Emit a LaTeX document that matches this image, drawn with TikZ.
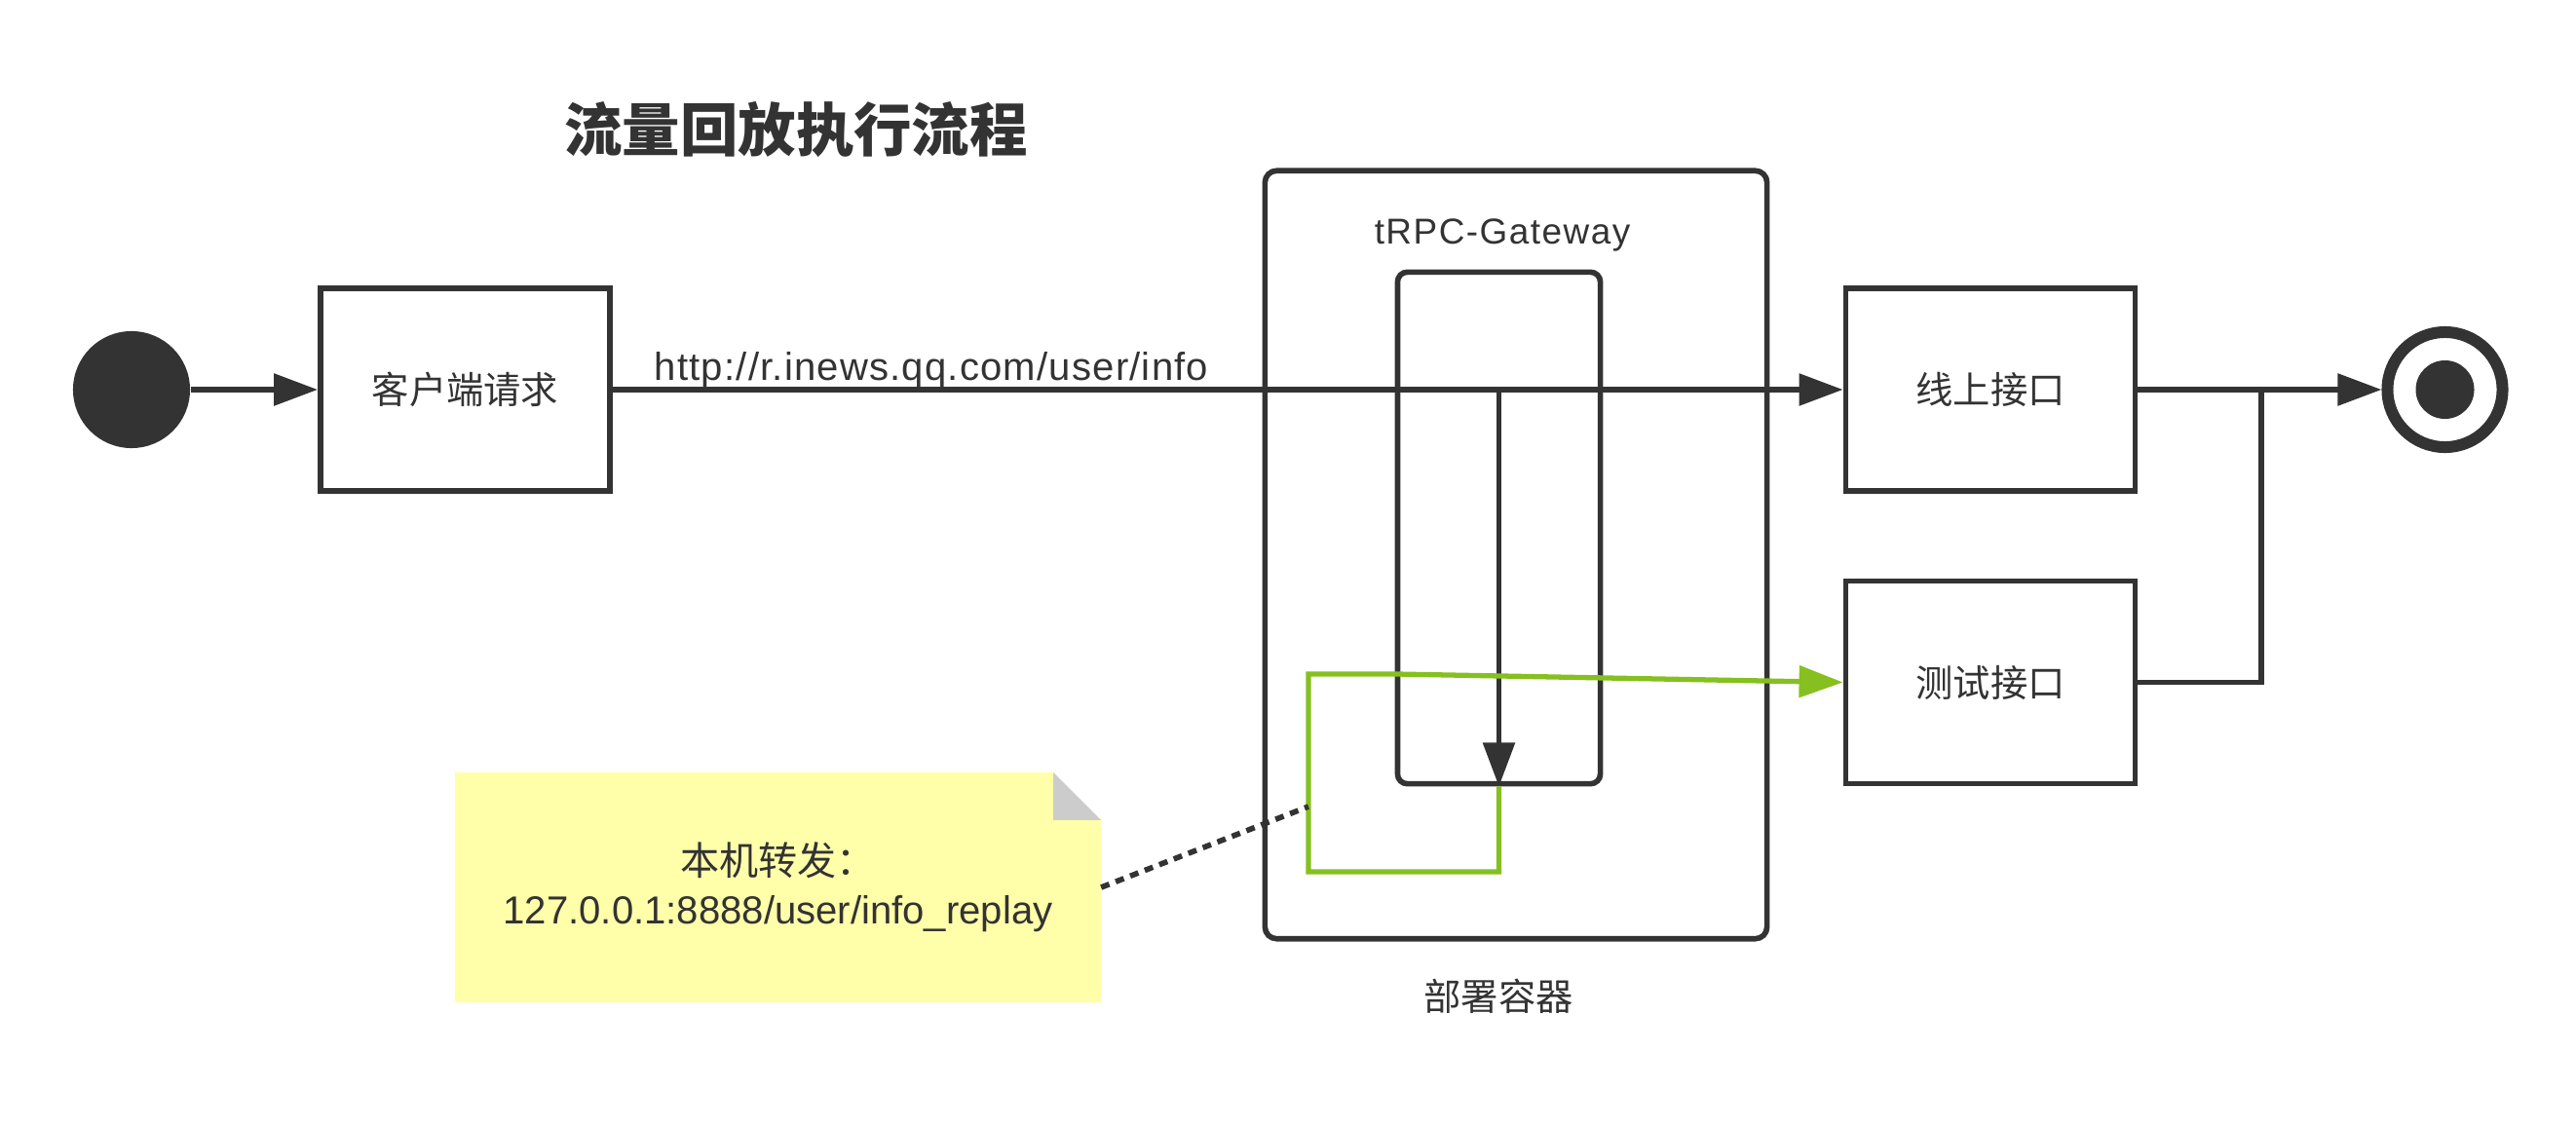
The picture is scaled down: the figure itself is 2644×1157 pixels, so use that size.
\documentclass[tikz,border=0pt]{standalone}
\usepackage{fontspec}
\setmainfont{Liberation Sans}
\newfontfamily\cjk{Noto Sans CJK SC}
\usepackage{tikz}
\usetikzlibrary{arrows.meta}
\usetikzlibrary{backgrounds}
\usepackage{xcolor}
\definecolor{ink}{HTML}{333333}
\definecolor{replaygreen}{RGB}{133,192,32}
\definecolor{notefill}{RGB}{255,255,170}
\definecolor{foldgray}{RGB}{204,204,204}

\tikzset{
  actbox/.style={draw=ink, line width=1.6pt, minimum width=2.97cm, minimum height=2.08cm, text=ink, font=\cjk\fontsize{10.9}{13}\selectfont},
  flow/.style={ink, line width=1.6pt, -{Triangle[length=0.45cm,width=0.32cm]}},
  replay/.style={replaygreen, line width=1.5pt, -{Triangle[length=0.45cm,width=0.32cm]}},
  frame/.style={draw=ink, line width=1.6pt, rounded corners=0.12cm, inner sep=0pt},
  caption/.style={text=ink, font=\cjk\fontsize{10.9}{13}\selectfont},
}

\begin{document}
\begin{tikzpicture}[x=0.01cm, y=-0.01cm]
\useasboundingbox (0,0) rectangle (2644,1157);

\node[text=ink, font=\cjk\bfseries\fontsize{16.9}{20}\selectfont] (title) at (817,133) {流量回放执行流程};

% containers
\node[frame, minimum width=5.15cm, minimum height=7.88cm] (deploy) at (1556,569.5) {};
\node[frame, minimum width=2.08cm, minimum height=5.25cm, rounded corners=0.1cm] (gw) at (1538.5,542) {};
\node[text=ink, anchor=base, font=\fontsize{10.5}{12}\addfontfeatures{LetterSpace=4}] (gwlabel) at (1542,250) {tRPC-Gateway};
\node[caption] (deploylabel) at (1538,1023) {部署容器};

% start / end
\node[circle, fill=ink, minimum size=1.2cm, inner sep=0pt] (start) at (135,400) {};
\node[circle, draw=ink, line width=0.12cm, minimum size=1.18cm, inner sep=0pt] (stop) at (2509.5,400) {};
\fill[ink] (stop.center) circle (0.3cm);

\node[actbox] (client) at (477.5,400) {客户端请求};
\node[actbox] (online) at (2043,400) {线上接口};
\node[actbox] (test) at (2043,700.5) {测试接口};

\coordinate (fork) at (gw.south |- online);
\coordinate (merge) at (2321,400);
\coordinate (lp1) at (1538.5,895);
\coordinate (lp2) at (1343,895);
\coordinate (lp3) at (1343,692);
\coordinate (lp4) at (1433,692);
\coordinate (dotend) at (1343,828);

\draw[flow] (start) -- (client);
\draw[flow] (client) -- (online)
  node[pos=0.259, anchor=base, yshift=0.1cm, text=ink, font=\fontsize{11.4}{13}\addfontfeatures{LetterSpace=3}] (url) {http://r.inews.qq.com/user/info};
\draw[flow] (fork) -- (gw.south);
\draw[flow] (online) -- (stop);
\draw[ink, line width=1.6pt] (test.east) -| (merge);
\draw[replay] (gw.south) -- (lp1) -- (lp2) -- (lp3) -- (lp4) -- (test.west);

% note
\node[inner sep=0pt, outer sep=0pt, minimum width=6.63cm, minimum height=2.36cm, align=center, text=ink, font=\fontsize{11.4}{14.2}\selectfont] (memo) at (798.5,911) {{\cjk 本机转发：}\\127.0.0.1:8888/user/info\_replay};
\begin{scope}[on background layer]
\fill[notefill] (memo.south west) -- (memo.north west) -- ([xshift=-0.49cm]memo.north east) -- ([yshift=-0.49cm]memo.north east) -- (memo.south east) -- cycle;
\fill[foldgray] ([xshift=-0.49cm]memo.north east) -- ([xshift=-0.49cm,yshift=-0.49cm]memo.north east) -- ([yshift=-0.49cm]memo.north east) -- cycle;
\end{scope}
\draw[ink, line width=1.6pt, dash pattern=on 0.09cm off 0.07cm] (memo.east) -- (dotend);
\end{tikzpicture}
\end{document}
